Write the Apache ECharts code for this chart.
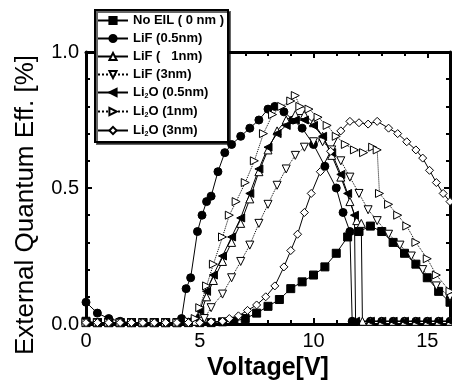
<!DOCTYPE html>
<html>
<head>
<meta charset="utf-8">
<script src="https://cdn.jsdelivr.net/npm/echarts@6/dist/echarts.min.js"></script>
<style>
  html, body { margin: 0; padding: 0; background: #fff; }
  #chart { width: 452px; height: 387px; }
</style>
</head>
<body>
<div id="chart"></div>
<script>
// [voltage (V), EQE]
const noEil = [
  [0, 0.01], [0.5, 0.005], [1, 0.005], [1.5, 0.005], [2, 0.005], [2.5, 0.005], [3, 0.005],
  [3.5, 0.005], [4, 0.005], [4.5, 0.005], [5, 0.005], [5.5, 0.005], [6, 0.008], [6.5, 0.01],
  [7, 0.02], [7.5, 0.04], [8, 0.065], [8.5, 0.09], [9, 0.13], [9.5, 0.155], [10, 0.18],
  [10.5, 0.21], [11, 0.26], [11.5, 0.32], [12, 0.34], [12.5, 0.36], [13, 0.34], [13.5, 0.30],
  [14, 0.26], [14.5, 0.22], [15, 0.17], [15.5, 0.12], [16, 0.08]
];
const lif05 = [
  [0, 0.08], [0.5, 0.04], [1, 0.02], [1.5, 0.01], [2, 0.005], [2.5, 0.005], [3, 0.005],
  [3.5, 0.005], [4, 0.005], [4.2, 0.02], [4.4, 0.13], [4.6, 0.17], [4.9, 0.34], [5.1, 0.40],
  [5.3, 0.45], [5.5, 0.47], [5.8, 0.56], [6.1, 0.63], [6.4, 0.66], [6.8, 0.69], [7.2, 0.72],
  [7.6, 0.75], [8, 0.79], [8.3, 0.80], [8.7, 0.78], [9.1, 0.75], [9.5, 0.72], [10, 0.66],
  [10.5, 0.58], [11, 0.50], [11.3, 0.41], [11.6, 0.34], [11.7, 0.01], [12.5, 0.01], [13, 0.01],
  [13.5, 0.01], [14, 0.01], [14.5, 0.01], [15, 0.01], [15.5, 0.01], [16, 0.01]
];
const lif1 = [
  [0, 0.005], [0.5, 0.005], [1, 0.005], [1.5, 0.005], [2, 0.005], [2.5, 0.005], [3, 0.005],
  [3.5, 0.005], [4, 0.005], [4.5, 0.008], [4.8, 0.01], [5, 0.03], [5.3, 0.10], [5.6, 0.16],
  [6, 0.23], [6.4, 0.30], [6.8, 0.37], [7.2, 0.46], [7.6, 0.56], [8, 0.64], [8.4, 0.71],
  [8.8, 0.75], [9.2, 0.77], [9.6, 0.77], [10, 0.74], [10.4, 0.69], [10.8, 0.62], [11.2, 0.54],
  [11.6, 0.45], [11.9, 0.38], [12.1, 0.37], [12.15, 0.01], [12.5, 0.01], [13, 0.01], [13.5, 0.01],
  [14, 0.01], [14.5, 0.01], [15, 0.01], [15.5, 0.01], [16, 0.01]
];
const lif3 = [
  [0, 0.005], [0.5, 0.005], [1, 0.005], [1.5, 0.005], [2, 0.005], [2.5, 0.005], [3, 0.005],
  [3.5, 0.005], [4, 0.005], [4.5, 0.005], [5, 0.01], [5.2, 0.02], [5.5, 0.06], [6, 0.11],
  [6.4, 0.17], [6.8, 0.23], [7.2, 0.29], [7.6, 0.37], [8, 0.44], [8.4, 0.51], [8.8, 0.57],
  [9.2, 0.62], [9.6, 0.65], [10, 0.67], [10.4, 0.67], [10.8, 0.64], [11.2, 0.60], [11.6, 0.54],
  [12, 0.48], [12.4, 0.42], [12.8, 0.38], [13.3, 0.33], [13.8, 0.29], [14.3, 0.25], [14.8, 0.20],
  [15.4, 0.14], [16, 0.10]
];
const li2o05 = [
  [0, 0.005], [0.5, 0.005], [1, 0.005], [1.5, 0.005], [2, 0.005], [2.5, 0.005], [3, 0.005],
  [3.5, 0.005], [4, 0.005], [4.5, 0.01], [4.8, 0.02], [5, 0.05], [5.3, 0.12], [5.6, 0.18],
  [6, 0.25], [6.4, 0.32], [6.8, 0.39], [7.2, 0.48], [7.6, 0.57], [8, 0.65], [8.4, 0.70],
  [8.8, 0.73], [9.2, 0.75], [9.6, 0.75], [10, 0.73], [10.4, 0.69], [10.8, 0.63], [11.2, 0.55],
  [11.5, 0.48], [11.8, 0.40], [11.85, 0.01], [12.5, 0.01], [13, 0.01], [13.5, 0.01], [14, 0.01],
  [14.5, 0.01], [15, 0.01], [15.5, 0.01], [16, 0.01]
];
const li2o1 = [
  [0, 0.005], [0.5, 0.005], [1, 0.005], [1.5, 0.005], [2, 0.005], [2.5, 0.005], [3, 0.005],
  [3.5, 0.005], [4, 0.005], [4.5, 0.01], [4.8, 0.02], [5, 0.06], [5.3, 0.14], [5.6, 0.22],
  [6, 0.32], [6.3, 0.40], [6.6, 0.45], [7, 0.52], [7.4, 0.60], [7.8, 0.70], [8.2, 0.77],
  [8.6, 0.80], [9, 0.82], [9.2, 0.84], [9.4, 0.80], [9.8, 0.79], [10.2, 0.76], [10.6, 0.73],
  [11, 0.69], [11.4, 0.66], [11.8, 0.64], [12.2, 0.63], [12.6, 0.65], [12.8, 0.64], [12.9, 0.48],
  [13.3, 0.44], [13.7, 0.40], [14.1, 0.36], [14.5, 0.30], [15, 0.24], [15.4, 0.18], [16, 0.12]
];
const li2o3 = [
  [0, 0.005], [0.5, 0.005], [1, 0.005], [1.5, 0.005], [2, 0.005], [2.5, 0.005], [3, 0.005],
  [3.5, 0.005], [4, 0.005], [4.5, 0.005], [5, 0.005], [5.5, 0.008], [6, 0.01], [6.3, 0.02],
  [6.7, 0.03], [7.1, 0.05], [7.5, 0.07], [7.9, 0.10], [8.3, 0.14], [8.7, 0.21], [9, 0.27],
  [9.3, 0.33], [9.6, 0.41], [9.9, 0.48], [10.3, 0.56], [10.75, 0.635], [11.2, 0.71], [11.6, 0.745],
  [12, 0.74], [12.4, 0.735], [12.8, 0.745], [13.3, 0.72], [13.7, 0.70], [14.1, 0.67], [14.5, 0.64],
  [14.8, 0.61], [15.1, 0.565], [15.4, 0.52], [15.7, 0.48], [16, 0.45]
];

const seriesNames = [
  "No EIL ( 0 nm )", "LiF (0.5nm)", "LiF (   1nm)", "LiF (3nm)",
  "Li2O (0.5nm)", "Li2O (1nm)", "Li2O (3nm)"
];
const xTicks = [0, 5, 10, 15];
const yTicks = [0, 0.5, 1.0];

const font = "Liberation Sans, Arial, sans-serif";
const filled = { color: "#000", borderColor: "#000", borderWidth: 1 };
const open = { color: "#fff", borderColor: "#000", borderWidth: 1 };

function makeSeries(name, data, symbol, rotate, item, dashed) {
  return {
    type: "line",
    name: name,
    data: data,
    symbol: symbol,
    symbolSize: 8,
    symbolRotate: rotate,
    itemStyle: item,
    lineStyle: { color: "#000", width: 1, type: dashed ? "dotted" : "solid" },
    animation: false,
    z: 3
  };
}

const axisCommon = {
  min: 0,
  axisLine: { onZero: false, lineStyle: { color: "#000", width: 3 } },
  axisTick: { inside: true, length: 6, lineStyle: { color: "#000", width: 2 } },
  minorTick: { show: true, splitNumber: 5, length: 4, lineStyle: { color: "#000", width: 2 } },
  splitLine: { show: false }
};

const chart = echarts.init(document.getElementById("chart"));
chart.setOption({
  backgroundColor: "#fff",
  animation: false,
  grid: { left: 86, right: 2, top: 52, bottom: 63 },
  legend: {
    orient: "vertical",
    left: 95,
    top: 10,
    data: seriesNames,
    backgroundColor: "#fff",
    borderColor: "#000",
    borderWidth: 2,
    shadowColor: "rgba(0,0,0,0.6)",
    shadowOffsetX: 2,
    shadowOffsetY: 2,
    padding: [4, 4, 4, 2],
    itemWidth: 30,
    itemHeight: 9,
    itemGap: 5,
    formatter: (name) => name.replace("Li2O", "Li{s|2}O"),
    textStyle: {
      color: "#000",
      fontFamily: font,
      fontWeight: "bold",
      fontSize: 13,
      rich: {
        s: { fontSize: 7, fontWeight: "bold", padding: [8, 0, 0, 0], color: "#000" }
      }
    }
  },
  xAxis: [
    Object.assign({}, axisCommon, {
      type: "value",
      max: 16,
      interval: 5,
      name: "Voltage[V]",
      nameLocation: "middle",
      nameGap: 31,
      nameTextStyle: { color: "#000", fontSize: 25, fontWeight: "bold", fontFamily: font },
      axisLabel: {
        color: "#000", fontSize: 20, margin: 7,
        fontFamily: font,
        customValues: xTicks
      }
    }),
    Object.assign({}, axisCommon, {
      type: "value",
      position: "top",
      max: 16,
      interval: 5,
      axisLabel: { show: false }
    })
  ],
  yAxis: [
    Object.assign({}, axisCommon, {
      type: "value",
      max: 1.0,
      interval: 0.5,
      name: "External Quantum Eff. [%]",
      nameLocation: "middle",
      nameGap: 47,
      nameTextStyle: {
        color: "#000", fontSize: 26, fontFamily: font,
        padding: [0, 34, 0, 0]
      },
      axisLabel: {
        color: "#000", fontSize: 20, margin: 7,
        fontFamily: font,
        formatter: (v) => v.toFixed(1),
        customValues: yTicks
      }
    }),
    Object.assign({}, axisCommon, {
      type: "value",
      position: "right",
      max: 1.0,
      interval: 0.5,
      axisLabel: { show: false }
    })
  ],
  series: [
    makeSeries(seriesNames[0], noEil, "rect", 0, filled, false),
    makeSeries(seriesNames[1], lif05, "circle", 0, filled, false),
    makeSeries(seriesNames[2], lif1, "triangle", 0, open, false),
    makeSeries(seriesNames[3], lif3, "triangle", 180, open, true),
    makeSeries(seriesNames[4], li2o05, "triangle", 90, filled, false),
    makeSeries(seriesNames[5], li2o1, "triangle", -90, open, true),
    makeSeries(seriesNames[6], li2o3, "diamond", 0, open, false)
  ]
});
</script>
</body>
</html>
